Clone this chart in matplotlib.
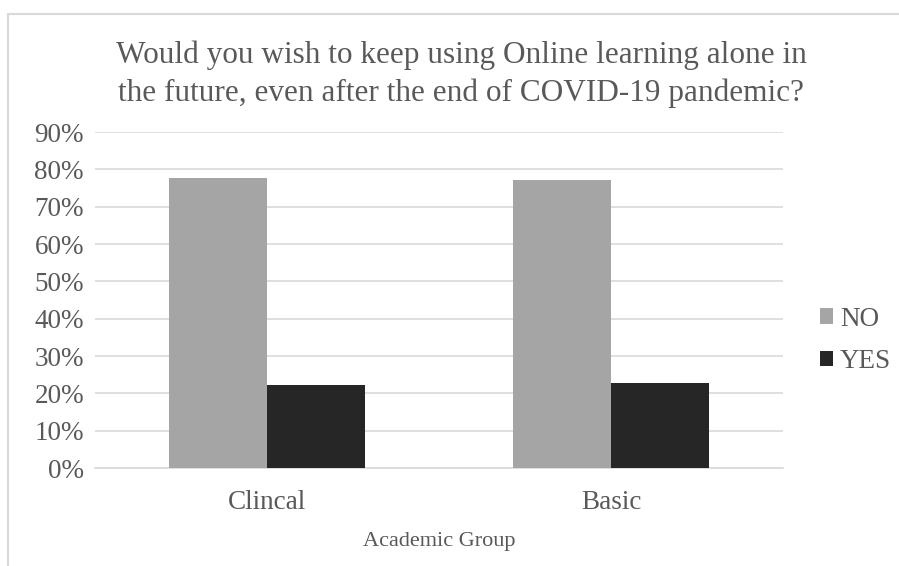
import numpy as np
import matplotlib.pyplot as plt
from matplotlib.patches import Rectangle

# Data
groups = ["Clincal", "Basic"]
no_values = [77.8, 77.1]
yes_values = [22.2, 22.9]
series_names = ["NO", "YES"]
y_ticks = [0, 10, 20, 30, 40, 50, 60, 70, 80, 90]

text_color = "#595959"
plt.rcParams["font.family"] = ["Liberation Serif", "DejaVu Serif"]

fig = plt.figure(figsize=(8.99, 5.66), dpi=100)

# Outer chart border (only left and top edges visible)
fig.patches.append(Rectangle(
    (8 / 899, -0.1), 1.1, (566 - 14) / 566 + 0.1,
    transform=fig.transFigure, fill=False,
    edgecolor="#d9d9d9", linewidth=1.5
))

ax = fig.add_axes([95 / 899, 98 / 566, 688 / 899, 336 / 566])

x = np.arange(len(groups))
width = 0.285

ax.bar(x - width / 2, no_values, width, color="#a5a5a5", label=series_names[0], zorder=3)
ax.bar(x + width / 2, yes_values, width, color="#262626", label=series_names[1], zorder=3)

ax.set_xlim(-0.5, 1.5)
ax.set_ylim(0, 90)
ax.set_yticks(y_ticks)
ax.set_yticklabels([f"{t}%" for t in y_ticks])
ax.set_xticks(x)
ax.set_xticklabels(groups)

ax.grid(axis="y", color="#d9d9d9", linewidth=1.2, zorder=0)
for side in ["top", "right", "left"]:
    ax.spines[side].set_visible(False)
ax.spines["bottom"].set_color("#d9d9d9")
ax.spines["bottom"].set_linewidth(1.2)

ax.tick_params(axis="both", length=0, labelsize=19.5, colors=text_color)
ax.tick_params(axis="y", pad=8)
ax.tick_params(axis="x", pad=16)

ax.set_xlabel("Academic Group", fontsize=16, color=text_color, labelpad=12)

fig.text(
    0.513, 0.869,
    "Would you wish to keep using Online learning alone in\n"
    "the future, even after the end of COVID-19 pandemic?",
    ha="center", va="center", fontsize=22.5, color=text_color,
    linespacing=1.4
)

leg = ax.legend(
    loc="center left", bbox_to_anchor=(1.018, 0.38),
    frameon=False, fontsize=19.5, handlelength=0.5, handleheight=0.5,
    handletextpad=0.25, labelspacing=0.65, labelcolor=text_color
)

plt.savefig("out.png", dpi=100)
plt.close()
